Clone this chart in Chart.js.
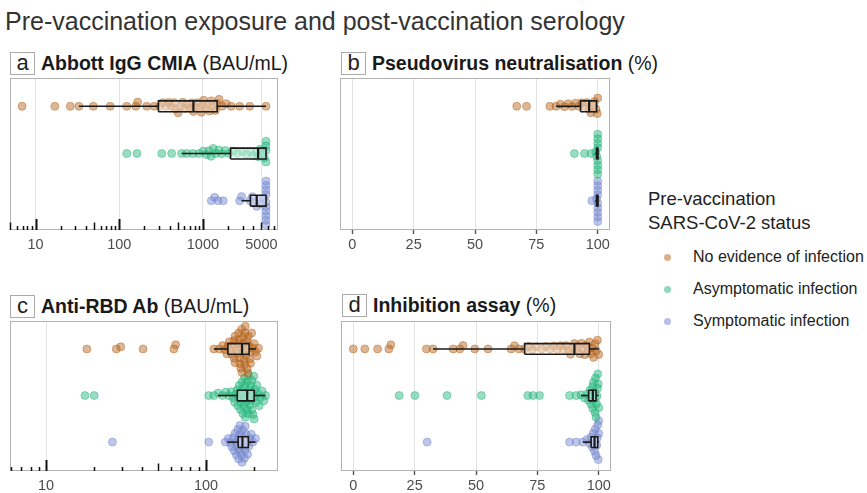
<!DOCTYPE html>
<html><head><meta charset="utf-8">
<script src="https://cdn.jsdelivr.net/npm/chart.js@4/dist/chart.umd.min.js"></script>
<style>
body{margin:0;background:#fff;width:867px;height:493px;overflow:hidden;position:relative;font-family:"Liberation Sans",Arial,sans-serif;}
.abs{position:absolute;white-space:nowrap;}
#title{left:5px;top:6px;font-size:25px;color:#333;line-height:30px;}
.ptitle{font-size:19.5px;color:#1a1a1a;line-height:23px;display:flex;align-items:center;}
.lbl{display:inline-block;box-sizing:border-box;border:1px solid #aaa;width:25px;height:23px;text-align:center;font-size:22px;line-height:20px;margin-right:6px;font-weight:normal;color:#222;}
.ptitle b{font-weight:bold;}
canvas{position:absolute;}
.leg{font-size:18.5px;color:#222;line-height:24px;left:648px;top:187px;}
.item{font-size:16px;color:#222;left:693px;line-height:20px;}
.dot{position:absolute;width:7px;height:7px;border-radius:50%;left:664px;}
</style></head>
<body>
<div id="title" class="abs">Pre-vaccination exposure and post-vaccination serology</div>
<div class="abs ptitle" style="left:10px;top:52px;"><span class="lbl">a</span><b>Abbott IgG CMIA</b>&nbsp;(BAU/mL)</div>
<div class="abs ptitle" style="left:341px;top:52px;"><span class="lbl">b</span><b>Pseudovirus neutralisation</b>&nbsp;(%)</div>
<div class="abs ptitle" style="left:10px;top:295px;"><span class="lbl">c</span><b>Anti-RBD Ab</b>&nbsp;(BAU/mL)</div>
<div class="abs ptitle" style="left:342px;top:294px;"><span class="lbl">d</span><b>Inhibition assay</b>&nbsp;(%)</div>
<canvas id="ca"></canvas><canvas id="cb"></canvas><canvas id="cc"></canvas><canvas id="cd"></canvas>
<div class="abs leg">Pre-vaccination<br>SARS-CoV-2 status</div>
<div id="legItems"></div>
<script>
// ---------------- DATA ----------------
const groups = ['No evidence of infection', 'Asymptomatic infection', 'Symptomatic infection'];

// a: Abbott IgG CMIA (BAU/mL)
const abbottNone = [6.9, 17, 26, 33, 49, 78, 123, 158, 166, 213, 262, 305, 330, 365, 390, 420, 455, 470, 505, 540, 575, 610, 650, 700, 740, 770, 800, 860, 910, 960, 990, 1020, 1080, 1140, 1200, 1260, 1330, 1410, 1480, 1560, 1700, 1900, 2180, 2750, 3630, 5680];
const abbottAsym = [123, 163, 322, 424, 557, 640, 760, 900, 1010, 1100, 1180, 1250, 1330, 1420, 1550, 1680, 1850, 2050, 2300, 2600, 2950, 3300, 3700, 4000, 4400, 4570, 4850, 5150, 5450, 5680, 5680, 5680, 5680];
const abbottSymp = [1260, 1380, 1520, 1750, 2750, 2900, 3650, 3900, 4150, 4400, 4650, 4950, 5300, 5680, 5680, 5680, 5680, 5680, 5680, 5680, 5680, 5680, 5680];
const abbottBox = [[33, 294, 770, 1480, 5680], [557, 2140, 4570, 5680, 5680], [2900, 3700, 4400, 5680, 5680]]; // lo,q1,med,q3,hi
const abbottTicks = [10, 100, 1000, 5000];

// b: Pseudovirus neutralisation (%)
const pseudoNone = [67, 71, 80.5, 83, 84.8, 86.5, 88, 89.6, 91, 92.4, 93.5, 94.6, 95.6, 96.4, 97.2, 98, 98.7, 99.3, 99.8, 100];
const pseudoAsym = [90.5, 94.6, 97.3, 99.2, 99.6, 100, 100, 100, 100, 100, 100, 100, 100];
const pseudoSymp = [97.6, 99.5, 100, 100, 100, 100, 100, 100, 100, 100, 100];
const pseudoBox = [[83, 93, 96.5, 99.5, 100], [99, 99.5, 99.9, 100, 100], [99, 99.5, 99.9, 100, 100]];
const pctTicks = [0, 25, 50, 75, 100];

// c: Anti-RBD Ab (BAU/mL)
const rbdNone = [18, 27.5, 29.3, 40.4, 63, 64.6, 112, 121, 127, 131, 135, 137, 140, 143, 145, 148, 150, 150, 152, 152, 155, 158, 158, 160, 161, 163, 163, 165, 166, 167, 168, 170, 171, 171, 173, 175, 175, 176, 178, 179, 180, 181, 183, 184, 185, 187, 189, 190, 193, 196, 200, 204, 208, 213];
const rbdAsym = [17.5, 20, 104, 112, 119, 127, 133, 139, 144, 148, 151, 154, 157, 158, 160, 161, 164, 165, 166, 168, 169, 170, 172, 172, 174, 175, 176, 178, 179, 180, 181, 183, 184, 186, 187, 188, 190, 192, 193, 194, 196, 197, 199, 200, 202, 203, 205, 208, 211, 215, 219, 224, 230, 236];
const rbdSymp = [26, 104, 132, 138, 142, 145, 148, 150, 152, 154, 155, 157, 158, 160, 160, 162, 163, 164, 166, 167, 168, 170, 170, 172, 174, 175, 176, 178, 180, 182, 185, 188, 192, 196, 204];
const rbdBox = [[112, 137, 168, 186, 205], [119, 157, 181, 200, 236], [136, 159, 169, 184, 204]];
const rbdTicks = [10, 100];

// d: Inhibition assay (%)
const inhibNone = [0, 4.7, 9.9, 14.5, 15.3, 29.8, 32.5, 40.7, 43.4, 44.7, 49.5, 54.9, 64.3, 65.7, 67.5, 69.8, 71.5, 73, 74.6, 76.8, 78.5, 80.2, 81.7, 83.1, 84.4, 85.6, 86.7, 87.6, 88.5, 89.3, 90.1, 90.8, 91.6, 92.3, 93, 93.6, 94.3, 95, 95.6, 96.2, 96.8, 97.4, 97.9, 98.5, 99, 99.5, 100];
const inhibAsym = [18.7, 25.1, 38.2, 52.2, 71.1, 73.2, 75.9, 88.1, 90.8, 92.8, 94.2, 95.3, 95.9, 96.4, 96.9, 97.2, 97.5, 97.6, 97.9, 98.1, 98.3, 98.5, 98.7, 98.9, 99.1, 99.3, 99.5, 99.6, 99.8, 100];
const inhibSymp = [30.1, 88.1, 90.8, 93.5, 95.2, 96.3, 96.9, 97.4, 97.8, 98.1, 98.3, 98.6, 98.9, 99.2, 99.4, 99.6, 99.8, 100, 100];
const inhibBox = [[32.5, 69.8, 90.1, 96.2, 100], [92.8, 95.9, 97.6, 98.9, 100], [93.5, 96.9, 98.3, 99.6, 100]];

// ---------------- STYLE / LAYOUT ----------------
const baseRGB = ['180,95,20', '30,180,120', '110,130,205'];
const rowY = [3, 2, 1];
const BOX_H = 0.115;
const FONT = '"Liberation Sans", Arial, sans-serif';

const panels = [
  {id: 'ca', type: 'logarithmic', min: 4.95, max: 7900, ticks: abbottTicks, series: [abbottNone, abbottAsym, abbottSymp], box: abbottBox, area: {l: 10, r: 278, t: 78, b: 230}, logTicks: true},
  {id: 'cb', type: 'linear', min: -5, max: 105, ticks: pctTicks, series: [pseudoNone, pseudoAsym, pseudoSymp], box: pseudoBox, area: {l: 340, r: 610, t: 78, b: 230}, logTicks: false},
  {id: 'cc', type: 'logarithmic', min: 5.95, max: 282, ticks: rbdTicks, series: [rbdNone, rbdAsym, rbdSymp], box: rbdBox, area: {l: 10, r: 278, t: 321, b: 471}, logTicks: true},
  {id: 'cd', type: 'linear', min: -5, max: 105, ticks: pctTicks, series: [inhibNone, inhibAsym, inhibSymp], box: inhibBox, area: {l: 341, r: 611, t: 321, b: 471}, logTicks: false}
];

// legend
const legEl = document.getElementById('legItems');
const legY = [257, 289, 321];
groups.forEach((g, i) => {
  const d = document.createElement('div'); d.className = 'dot';
  d.style.top = (legY[i] - 3.5) + 'px'; d.style.background = 'rgba(' + baseRGB[i] + ',0.5)';
  legEl.appendChild(d);
  const t = document.createElement('div'); t.className = 'abs item'; t.textContent = g;
  t.style.top = (legY[i] - 10) + 'px'; legEl.appendChild(t);
});

const framePlugin = {
  id: 'frame',
  afterDatasetsDraw(chart, args, opts) {
    const {ctx, chartArea: a} = chart;
    ctx.save();
    ctx.strokeStyle = '#b3b3b3'; ctx.lineWidth = 1;
    ctx.strokeRect(a.left + 0.5, a.top + 0.5, a.right - a.left - 1, a.bottom - a.top - 1);
    if (opts.logTicks) {
      const sx = chart.scales.x;
      ctx.strokeStyle = '#111';
      const k0 = Math.floor(Math.log10(sx.min)), k1 = Math.ceil(Math.log10(sx.max));
      for (let k = k0; k <= k1; k++) {
        for (let m = 1; m <= 9; m++) {
          const v = m * Math.pow(10, k);
          if (v < sx.min || v > sx.max) continue;
          const px = Math.round(sx.getPixelForValue(v)) + 0.5;
          const len = m === 1 ? 11 : (m === 5 ? 7.5 : 4);
          ctx.lineWidth = m === 1 ? 2 : 1.5;
          ctx.beginPath(); ctx.moveTo(px, a.bottom); ctx.lineTo(px, a.bottom - len); ctx.stroke();
        }
      }
    }
    ctx.restore();
  }
};

function swarmOffsets(pxs, dx, dy) {
  const order = pxs.map((p, i) => i).sort((i, j) => pxs[i] - pxs[j]);
  const placed = []; const off = new Array(pxs.length).fill(0);
  for (const i of order) {
    const x = pxs[i];
    const ints = [];
    for (const p of placed) {
      const d = Math.abs(p.x - x);
      if (d < dx) { const h = dy * Math.sqrt(1 - (d / dx) * (d / dx)); ints.push([p.y - h, p.y + h]); }
    }
    const cands = [0];
    ints.forEach(([lo, hi]) => cands.push(lo, hi));
    cands.sort((a, b) => Math.abs(a) - Math.abs(b) || b - a);
    let y = 0;
    for (const c of cands) {
      if (ints.every(([lo, hi]) => c <= lo + 1e-6 || c >= hi - 1e-6)) { y = c; break; }
    }
    off[i] = y; placed.push({x, y});
  }
  return off;
}

panels.forEach(P => {
  const cv = document.getElementById(P.id);
  const left = P.area.l - 8, top = P.area.t - 6;
  const W = P.area.r - left + 8, H = P.area.b - top + 32;
  cv.width = W; cv.height = H; cv.style.left = left + 'px'; cv.style.top = top + 'px';
  cv.style.width = W + 'px'; cv.style.height = H + 'px';

  const datasets = [];
  P.box.forEach((b, g) => {
    const [lo, q1, md, q3, hi] = b; const r = rowY[g];
    const lineDs = (data, w, extra) => Object.assign({type: 'scatter', data, showLine: true, pointRadius: 0, pointHoverRadius: 0, borderColor: '#1a1a1a', borderWidth: w, order: 0}, extra || {});
    datasets.push(lineDs([{x: md, y: r - BOX_H}, {x: md, y: r + BOX_H}], 2.2));
    datasets.push(lineDs([{x: q1, y: r - BOX_H}, {x: q3, y: r - BOX_H}, {x: q3, y: r + BOX_H}, {x: q1, y: r + BOX_H}, {x: q1, y: r - BOX_H}], 1.6, {fill: 'shape', backgroundColor: 'rgba(255,255,255,0.45)'}));
    if (lo < q1) datasets.push(lineDs([{x: lo, y: r}, {x: q1, y: r}], 1.6));
    if (hi > q3) datasets.push(lineDs([{x: q3, y: r}, {x: hi, y: r}], 1.6));
  });
  P.series.forEach((vals, g) => {
    datasets.push({type: 'scatter', data: vals.map(v => ({x: v, y: rowY[g]})), pointRadius: 4, pointHoverRadius: 4,
      backgroundColor: 'rgba(' + baseRGB[g] + ',0.45)', borderColor: 'rgba(' + baseRGB[g] + ',0.55)', borderWidth: 0.8, order: 1});
  });

  const chart = new Chart(cv, {
    type: 'scatter',
    data: {datasets},
    plugins: [framePlugin],
    options: {
      responsive: false, animation: false, devicePixelRatio: 1,
      layout: {padding: {left: 8, right: 8, top: 6, bottom: 0}},
      plugins: {legend: {display: false}, tooltip: {enabled: false}, frame: {logTicks: P.logTicks}},
      scales: {
        x: {
          type: P.type, min: P.min, max: P.max,
          afterBuildTicks: s => { s.ticks = P.ticks.map(v => ({value: v})); },
          afterFit: s => { s.height = 32; },
          ticks: {autoSkip: false, maxRotation: 0, minRotation: 0, color: '#4d4d4d', font: {family: FONT, size: 14.5}, padding: P.logTicks ? 6 : 2, callback: v => String(v)},
          grid: {color: '#e3e3e3', lineWidth: 1, drawTicks: !P.logTicks, tickLength: 4, tickColor: '#555', tickWidth: 1.4},
          border: {display: false}
        },
        y: {type: 'linear', min: 0.38, max: 3.6, display: false}
      }
    }
  });

  const sx = chart.scales.x, sy = chart.scales.y;
  const pxPerUnit = Math.abs(sy.getPixelForValue(0) - sy.getPixelForValue(1));
  const nBox = datasets.length - 3;
  P.series.forEach((vals, g) => {
    const pxs = vals.map(v => sx.getPixelForValue(v));
    const off = swarmOffsets(pxs, 5, 4.5);
    chart.data.datasets[nBox + g].data = vals.map((v, i) => ({x: v, y: rowY[g] + off[i] / pxPerUnit}));
  });
  chart.update('none');
});
</script>
</body></html>
